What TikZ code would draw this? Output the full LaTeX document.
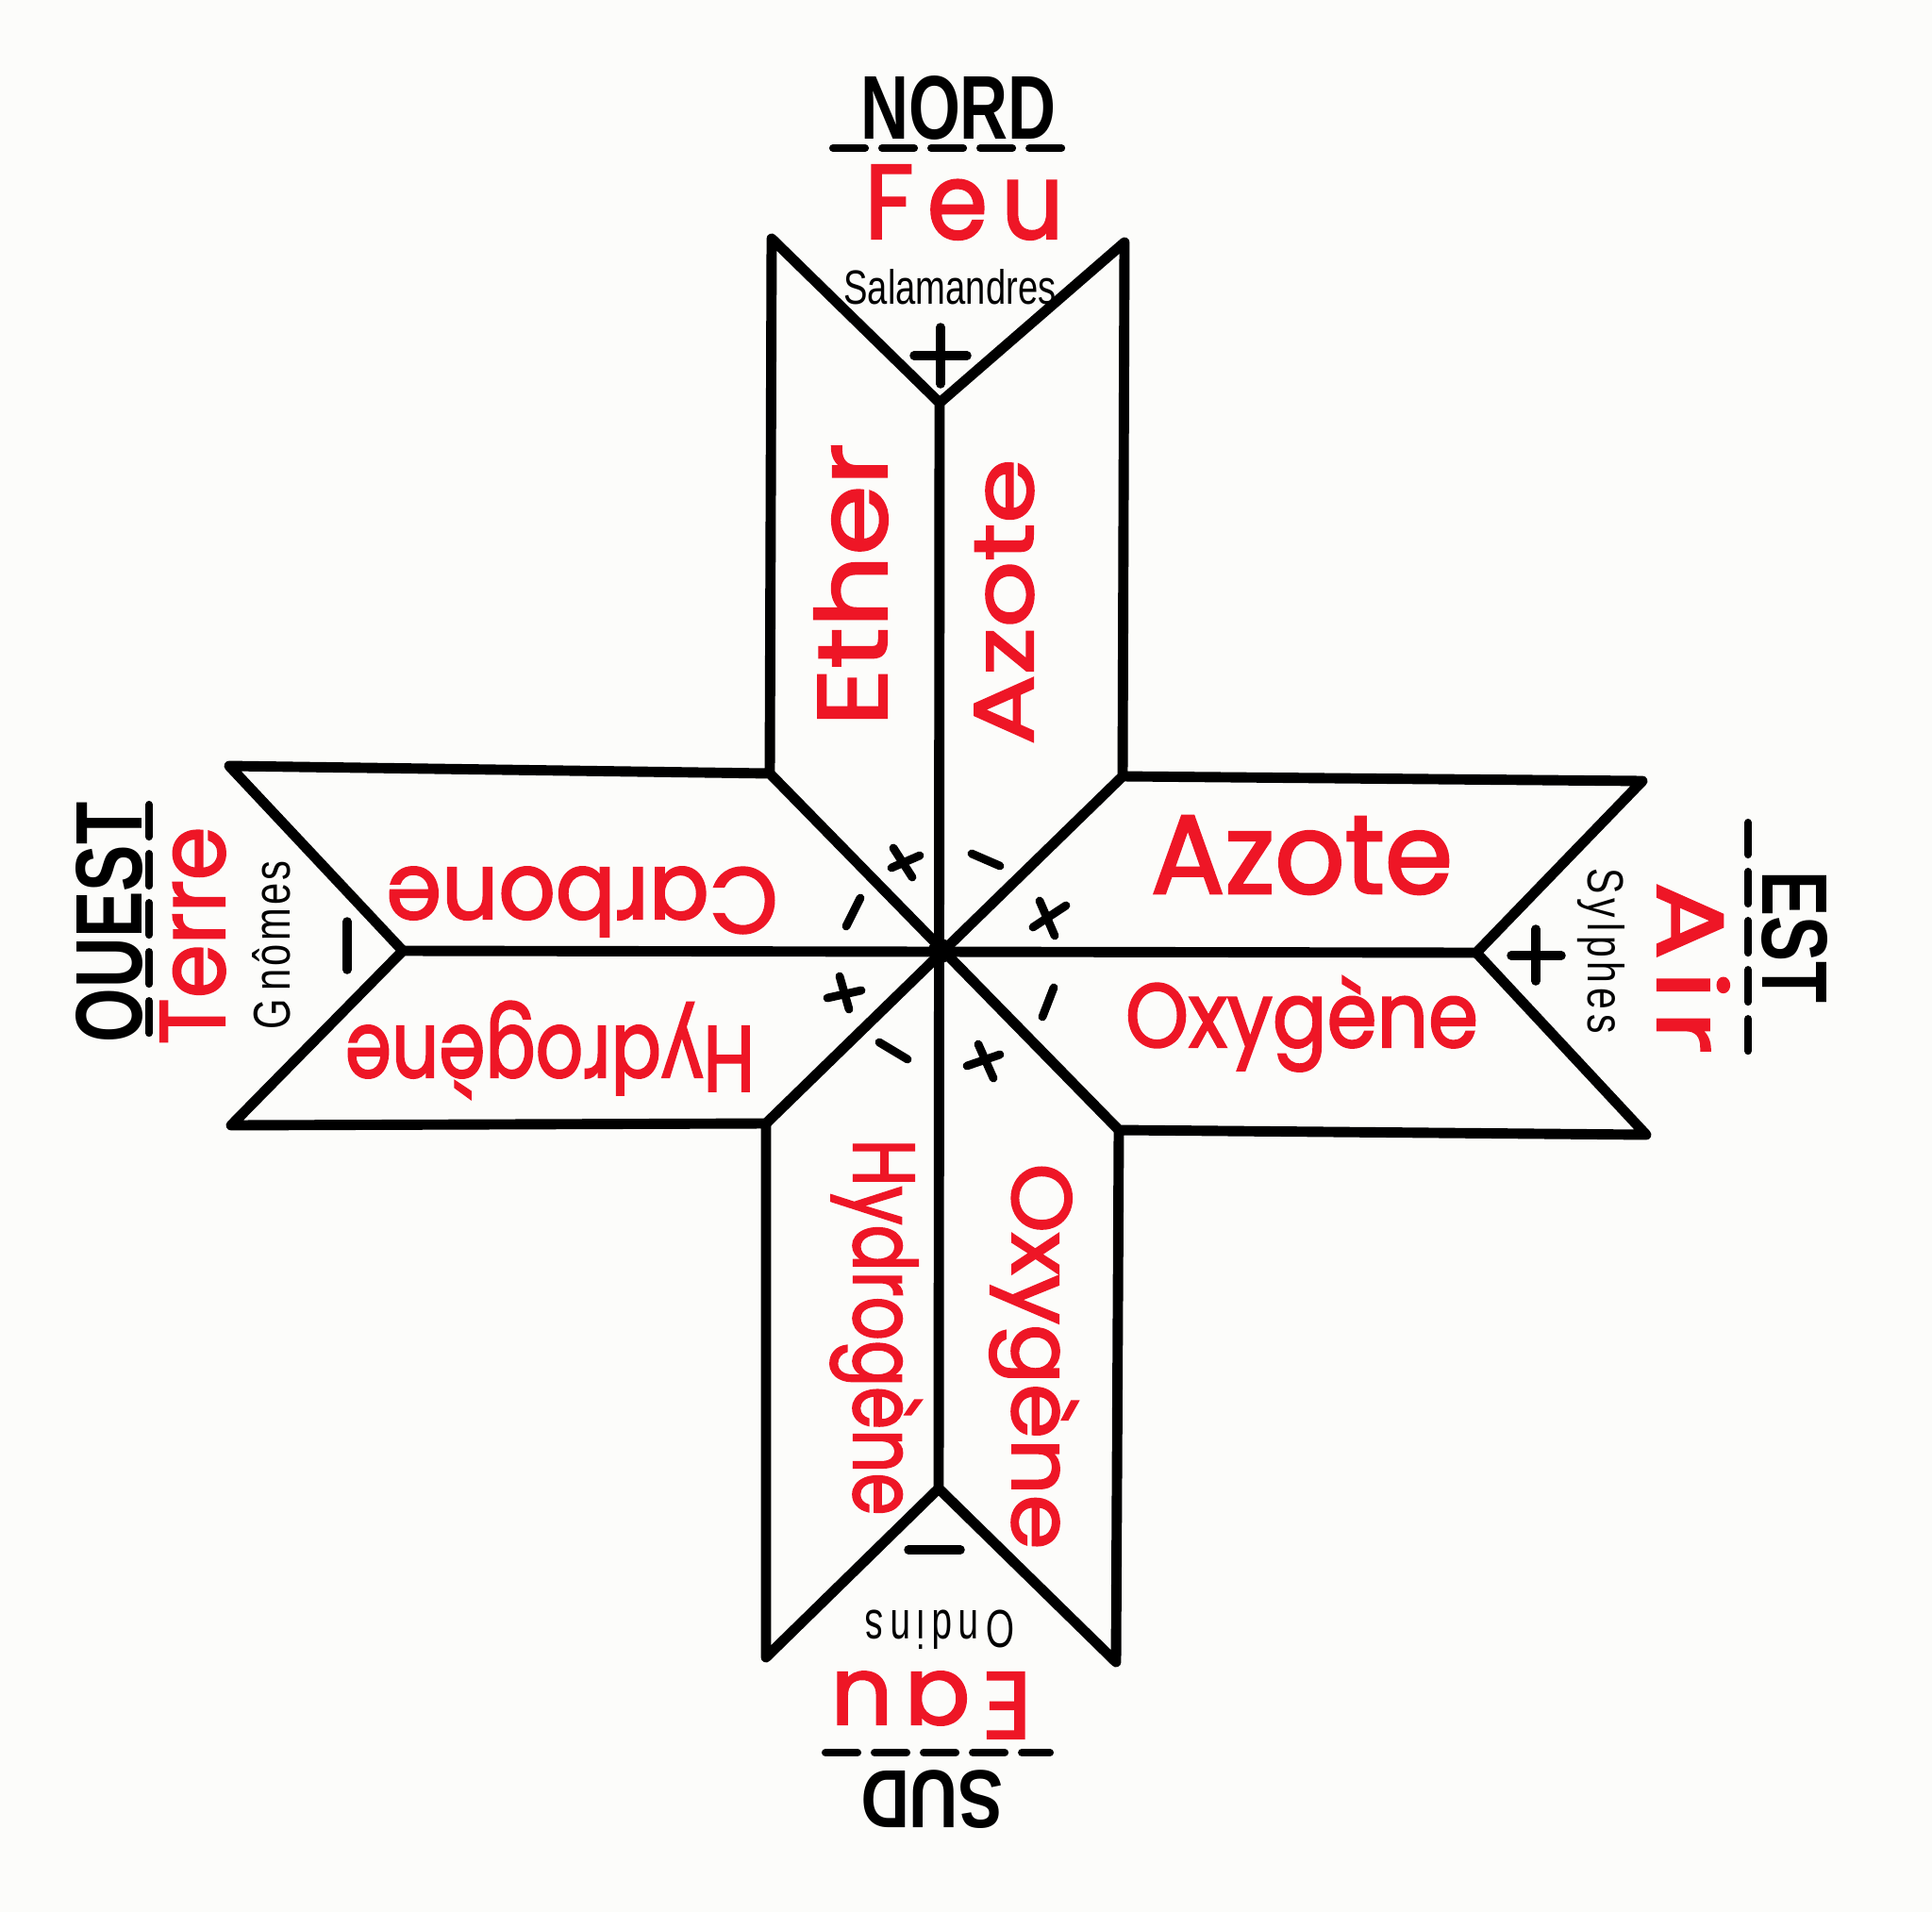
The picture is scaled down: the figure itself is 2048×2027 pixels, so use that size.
\documentclass[tikz,border=0pt]{standalone}
\usepackage{fontspec}
\setmainfont{Liberation Sans}
\newfontfamily\redfont[FakeBold=2.2]{Poppins}
\newlength\pxu
\setlength\pxu{0.01cm}
\newcommand\fitlbl[3]{\resizebox{#1\pxu}{#2\pxu}{#3}}
\definecolor{inkred}{RGB}{238,22,38}
\definecolor{paper}{RGB}{252,252,250}
\tikzset{
  outline/.style={line width=3.1pt, line join=round, line cap=round},
  signstroke/.style={line width=2.7pt, line cap=round},
  smallsign/.style={line width=2.5pt, line cap=round},
  lbl/.style={inner sep=0pt, outer sep=0pt, anchor=base},
  redlbl/.style={lbl, text=inkred},
  ul/.style={line width=2.3pt, line cap=round, dash pattern=on 0.34cm off 0.18cm},
}
\begin{document}
\begin{tikzpicture}[x=0.01cm, y=-0.01cm]
\fill[paper] (0,0) rectangle (2048,2027);
\useasboundingbox (0,0) rectangle (2048,2027);
% vertices
\coordinate (C) at (997,1008);
\coordinate (NW) at (816,820);
\coordinate (NE) at (1190,823);
\coordinate (SE) at (1186,1198);
\coordinate (SW) at (812,1191);
\coordinate (NLt) at (818,253);
\coordinate (Nap) at (996,427);
\coordinate (NRt) at (1192,257);
\coordinate (ETt) at (1741,828);
\coordinate (Eap) at (1565,1010);
\coordinate (ETb) at (1745,1203);
\coordinate (SRb) at (1183,1762);
\coordinate (Sap) at (995,1578);
\coordinate (SLb) at (812,1757);
\coordinate (WTb) at (245,1193);
\coordinate (Wap) at (427,1008);
\coordinate (WTt) at (243,812);
% cross outline
\draw[outline] (NW) -- (NLt) -- (Nap) -- (NRt) -- (NE) -- (ETt) -- (Eap) -- (ETb)
  -- (SE) -- (SRb) -- (Sap) -- (SLb) -- (SW) -- (WTb) -- (Wap) -- (WTt) -- cycle;
\draw[outline] (Nap) -- (Sap);
\draw[outline] (Wap) -- (Eap);
\draw[outline] (NW) -- (SE);
\draw[outline] (SW) -- (NE);
\fill (C) circle (0.13cm);
% compass labels
\node[lbl] (nord) at (1016,147) {\fitlbl{208}{67}{\bfseries NORD}};
\node[lbl, rotate=-90] (est) at (1868,993) {\fitlbl{140}{69}{\bfseries EST}};
\node[lbl, rotate=180] (sud) at (988,1877) {\fitlbl{151}{61}{\bfseries SUD}};
\node[lbl, rotate=90] (ouest) at (150,978) {\fitlbl{255}{70}{\bfseries OUEST}};
\draw[ul] (883,157) -- (1135,157);
\draw[ul] (1853,872) -- (1853,1127);
\draw[ul] (875,1858) -- (1113,1858);
\draw[ul] (158,853) -- (158,1110);
% spirits
\node[lbl] (sal) at (1007,322) {\fitlbl{225}{37}{Salamandres}};
\node[lbl, rotate=90] (gno) at (307,1002) {\fitlbl{179}{40}{\addfontfeature{LetterSpace=8}G\kern0.2em nômes}};
\node[lbl, rotate=-90] (syl) at (1683,1008) {\fitlbl{175}{39}{\addfontfeature{LetterSpace=12}Sylphes}};
\node[lbl, rotate=180] (ond) at (996,1707) {\fitlbl{158}{41}{\addfontfeature{LetterSpace=18}Ondins}};
% elements
\node[redlbl] (feu) at (1022,253) {\fitlbl{211}{78}{\redfont\addfontfeature{LetterSpace=14}Feu}};
\node[redlbl, rotate=180] (eau) at (987,1773) {\fitlbl{213}{70}{\redfont\addfontfeature{LetterSpace=12}Eau}};
\node[redlbl, rotate=90] (terre) at (238,992) {\fitlbl{231}{68}{\redfont Terre}};
\node[redlbl, rotate=-90] (air) at (1757,1026) {\fitlbl{182}{76}{\redfont\addfontfeature{LetterSpace=10}Air}};
% arm labels
\node[redlbl, rotate=90] (ether) at (940,620) {\fitlbl{300}{77}{\redfont Ether}};
\node[redlbl, rotate=90] (azoten) at (1095,638) {\fitlbl{303}{62}{\redfont Azote}};
\node[redlbl] (azotee) at (1380,947) {\fitlbl{320}{82}{\redfont Azote}};
\node[redlbl] (oxye) at (1380,1110) {\fitlbl{374}{75}{\redfont Oxygène}};
\node[redlbl, rotate=180] (carb) at (617,920) {\fitlbl{415}{73}{\redfont Carbone}};
\node[redlbl, rotate=180] (hydw) at (583,1088) {\fitlbl{434}{77}{\redfont Hydrogène}};
\node[redlbl, rotate=-90] (hyds) at (905,1407) {\fitlbl{399}{72}{\redfont Hydrogène}};
\node[redlbl, rotate=-90] (oxys) at (1073,1438) {\fitlbl{409}{70}{\redfont Oxygène}};
% outer signs
\draw[signstroke] (969,377) -- (1025,377);
\draw[signstroke] (997,347) -- (997,407);
\draw[signstroke] (1602,1013) -- (1655,1013);
\draw[signstroke] (1628,985) -- (1628,1040);
\draw[signstroke] (368,977) -- (368,1028);
\draw[signstroke] (963,1643) -- (1018,1643);
% inner signs
\draw[smallsign] (945,920) -- (975,907);
\draw[smallsign] (947,899) -- (967,930);
\draw[smallsign] (1030,905) -- (1060,918);
\draw[smallsign] (1095,983) -- (1130,960);
\draw[smallsign] (1102,955) -- (1118,992);
\draw[smallsign] (912,952) -- (897,982);
\draw[smallsign] (877,1058) -- (913,1050);
\draw[smallsign] (890,1035) -- (900,1070);
\draw[smallsign] (1117,1047) -- (1105,1078);
\draw[smallsign] (932,1105) -- (962,1123);
\draw[smallsign] (1025,1130) -- (1060,1118);
\draw[smallsign] (1037,1107) -- (1053,1143);
\end{tikzpicture}
\end{document}
